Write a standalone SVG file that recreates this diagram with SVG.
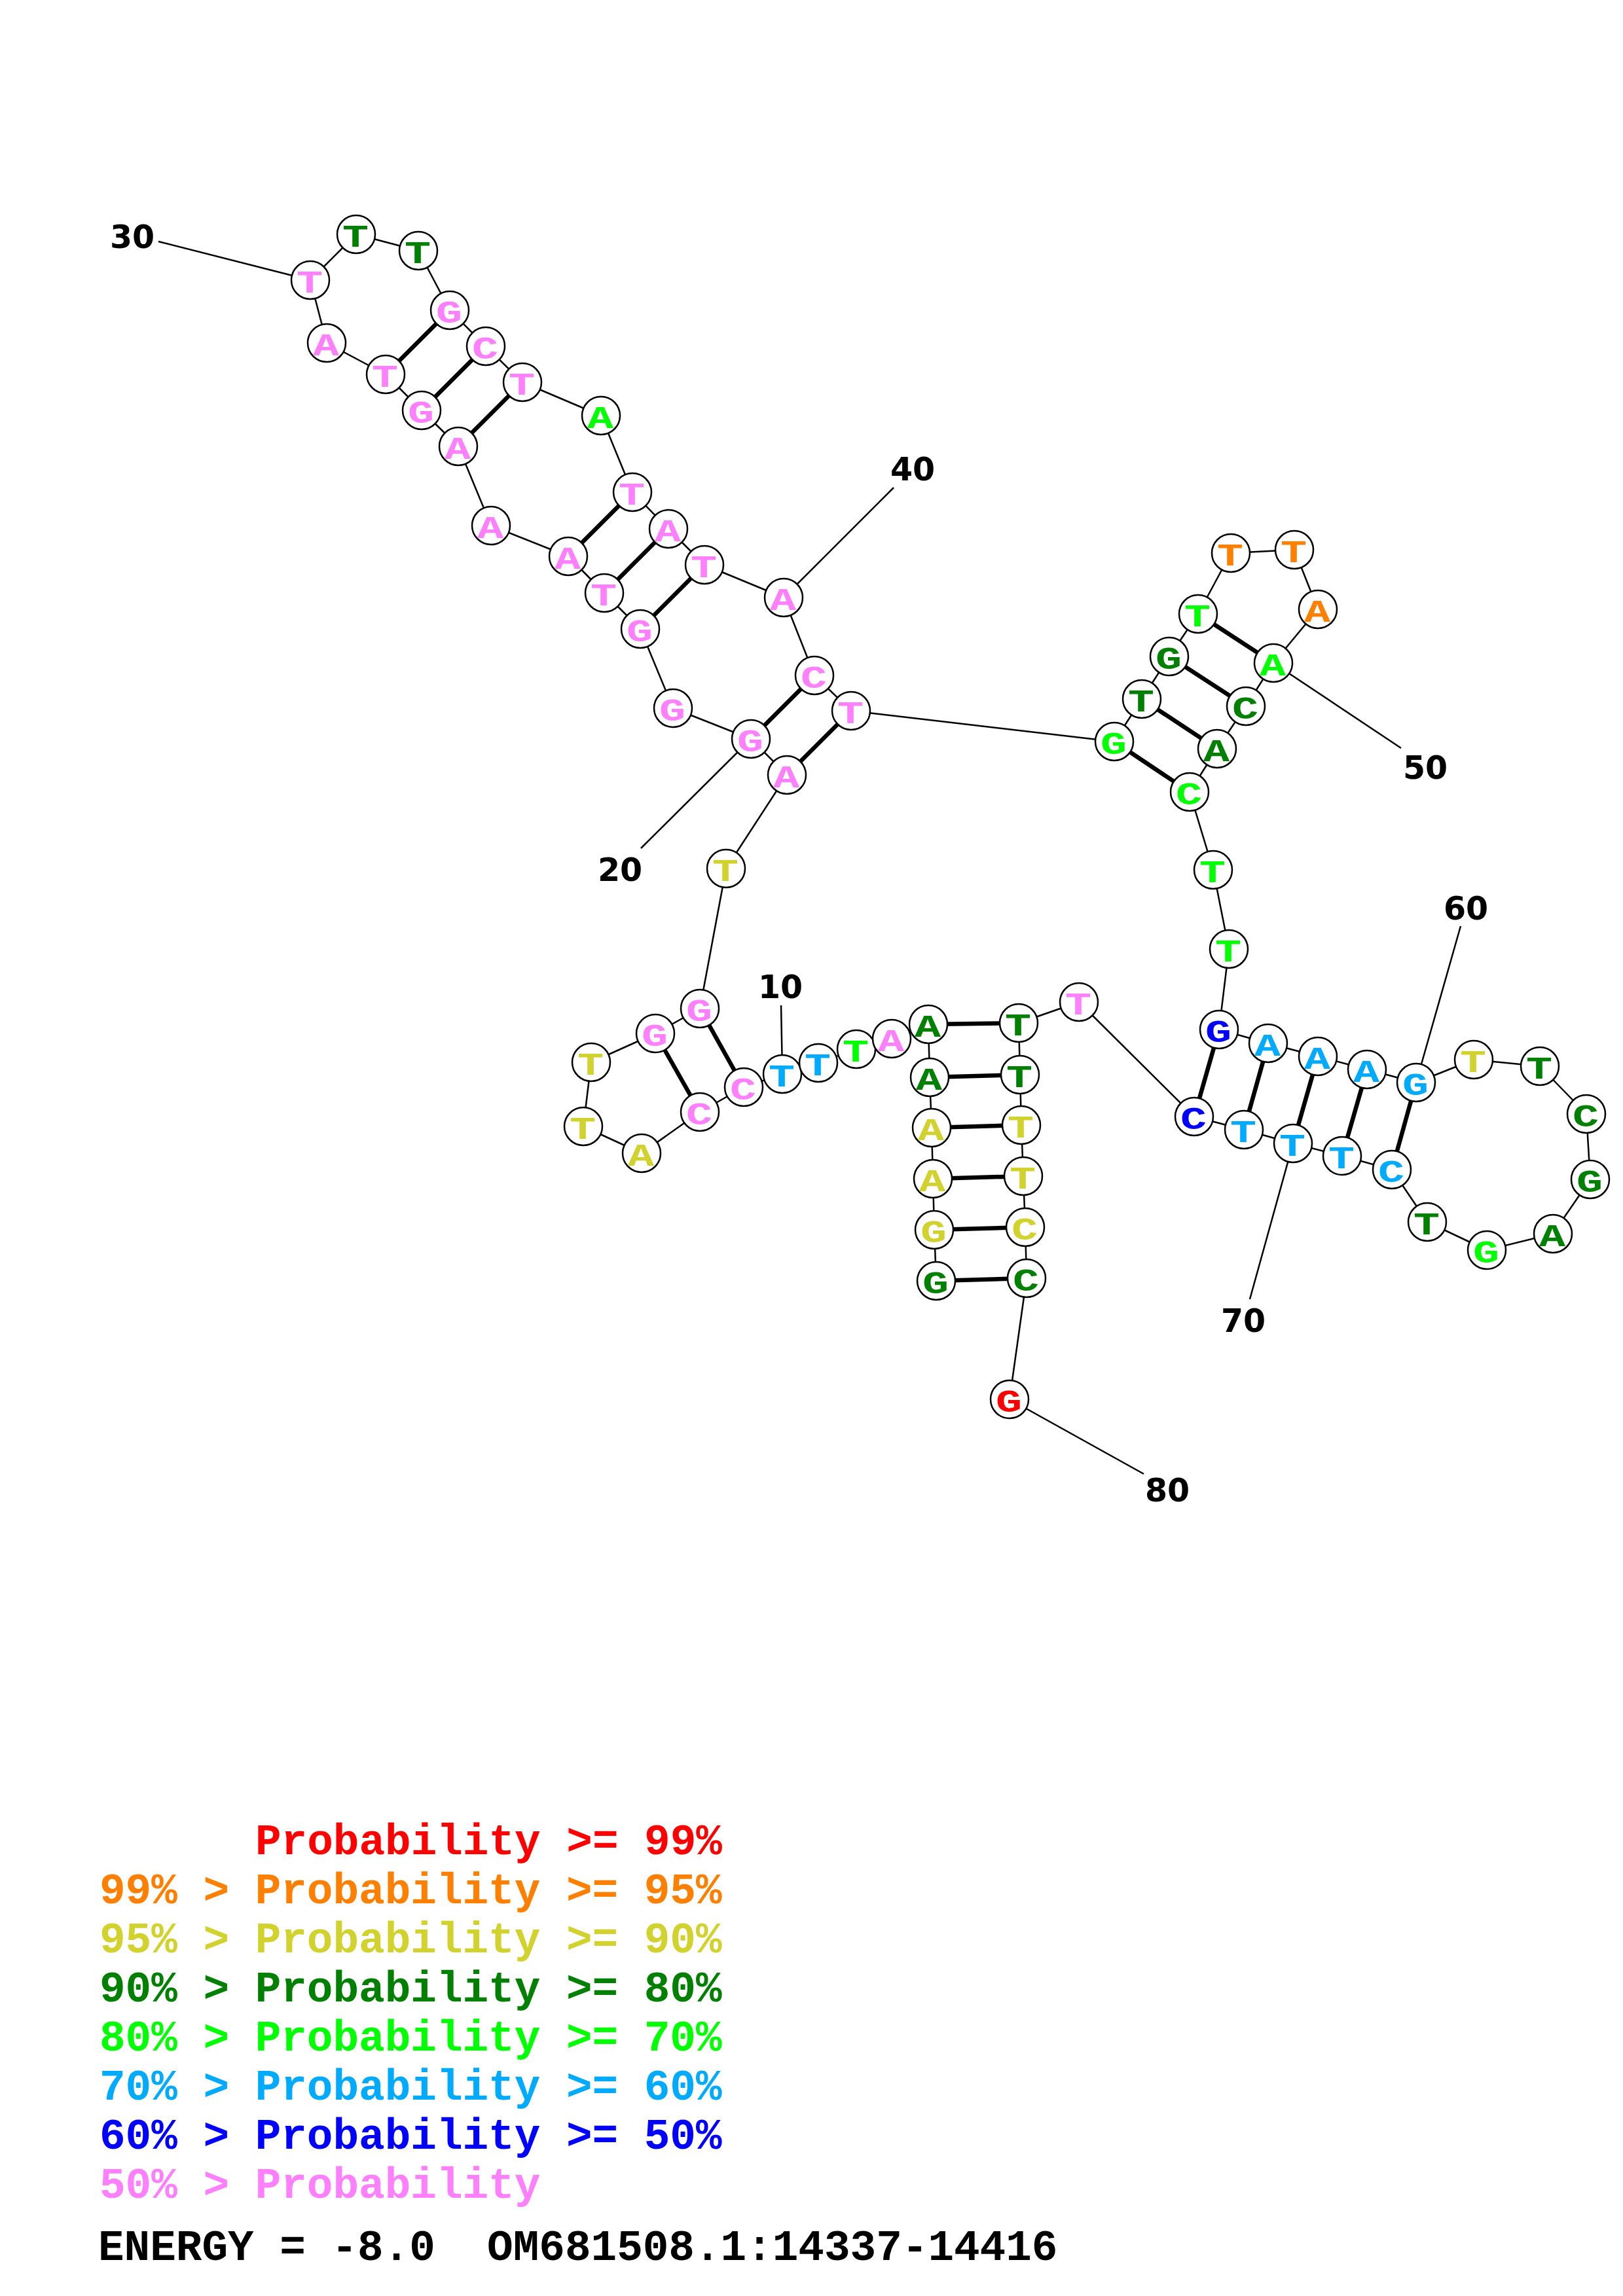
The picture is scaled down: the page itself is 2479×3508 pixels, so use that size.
<svg xmlns="http://www.w3.org/2000/svg" width="2479" height="3508" viewBox="0 0 2479 3508">
<style>
.bb line{stroke:#000;stroke-width:2.5}
.bp line{stroke:#000;stroke-width:6.5}
.ll line{stroke:#000;stroke-width:2.5}
.n circle{fill:#fff;stroke:#000;stroke-width:2.5}
.n text{font-family:"Liberation Mono",monospace;font-weight:bold;font-size:48px;text-anchor:middle}
.num{font-family:"DejaVu Sans",sans-serif;font-weight:bold;font-size:49px;text-anchor:middle;fill:#000}
.leg{font-family:"Liberation Mono",monospace;font-weight:bold;font-size:66px;white-space:pre}
.r{fill:#FF0000}.o{fill:#FF8000}.y{fill:#D2D22E}.dg{fill:#008000}.g{fill:#00FF00}.lb{fill:#00AAFF}.b{fill:#0000FF}.p{fill:#FF80FF}.k{fill:#000}
</style>
<rect width="2479" height="3508" fill="#fff"/>
<g id="connectors">
<g class="bb">
<line x1="1430" y1="1957" x2="1427" y2="1879"/>
<line x1="1427" y1="1879" x2="1425" y2="1801"/>
<line x1="1425" y1="1801" x2="1423" y2="1723"/>
<line x1="1423" y1="1723" x2="1420" y2="1646"/>
<line x1="1420" y1="1646" x2="1418" y2="1565"/>
<line x1="1418" y1="1565" x2="1362" y2="1587"/>
<line x1="1362" y1="1587" x2="1308" y2="1603"/>
<line x1="1308" y1="1603" x2="1250" y2="1624"/>
<line x1="1250" y1="1624" x2="1195" y2="1641"/>
<line x1="1195" y1="1641" x2="1136" y2="1661"/>
<line x1="1136" y1="1661" x2="1069" y2="1699"/>
<line x1="1069" y1="1699" x2="980" y2="1762"/>
<line x1="980" y1="1762" x2="891" y2="1721"/>
<line x1="891" y1="1721" x2="903" y2="1623"/>
<line x1="903" y1="1623" x2="1001" y2="1579"/>
<line x1="1001" y1="1579" x2="1069" y2="1541"/>
<line x1="1069" y1="1541" x2="1109" y2="1327"/>
<line x1="1109" y1="1327" x2="1202" y2="1184"/>
<line x1="1202" y1="1184" x2="1147" y2="1129"/>
<line x1="1147" y1="1129" x2="1028" y2="1082"/>
<line x1="1028" y1="1082" x2="978" y2="961"/>
<line x1="978" y1="961" x2="923" y2="906"/>
<line x1="923" y1="906" x2="868" y2="850"/>
<line x1="868" y1="850" x2="750" y2="803"/>
<line x1="750" y1="803" x2="700" y2="682"/>
<line x1="700" y1="682" x2="644" y2="627"/>
<line x1="644" y1="627" x2="589" y2="572"/>
<line x1="589" y1="572" x2="499" y2="524"/>
<line x1="499" y1="524" x2="474" y2="428"/>
<line x1="474" y1="428" x2="544" y2="358"/>
<line x1="544" y1="358" x2="639" y2="383"/>
<line x1="639" y1="383" x2="687" y2="474"/>
<line x1="687" y1="474" x2="742" y2="529"/>
<line x1="742" y1="529" x2="798" y2="584"/>
<line x1="798" y1="584" x2="918" y2="635"/>
<line x1="918" y1="635" x2="966" y2="752"/>
<line x1="966" y1="752" x2="1021" y2="808"/>
<line x1="1021" y1="808" x2="1076" y2="863"/>
<line x1="1076" y1="863" x2="1197" y2="913"/>
<line x1="1197" y1="913" x2="1244" y2="1032"/>
<line x1="1244" y1="1032" x2="1300" y2="1086"/>
<line x1="1300" y1="1086" x2="1702" y2="1133"/>
<line x1="1702" y1="1133" x2="1744" y2="1068"/>
<line x1="1744" y1="1068" x2="1786" y2="1003"/>
<line x1="1786" y1="1003" x2="1830" y2="938"/>
<line x1="1830" y1="938" x2="1880" y2="845"/>
<line x1="1880" y1="845" x2="1977" y2="840"/>
<line x1="1977" y1="840" x2="2013" y2="931"/>
<line x1="2013" y1="931" x2="1945" y2="1013"/>
<line x1="1945" y1="1013" x2="1903" y2="1079"/>
<line x1="1903" y1="1079" x2="1859" y2="1144"/>
<line x1="1859" y1="1144" x2="1817" y2="1210"/>
<line x1="1817" y1="1210" x2="1853" y2="1329"/>
<line x1="1853" y1="1329" x2="1877" y2="1450"/>
<line x1="1877" y1="1450" x2="1862" y2="1573"/>
<line x1="1862" y1="1573" x2="1937" y2="1594"/>
<line x1="1937" y1="1594" x2="2013" y2="1614"/>
<line x1="2013" y1="1614" x2="2088" y2="1634"/>
<line x1="2088" y1="1634" x2="2163" y2="1654"/>
<line x1="2163" y1="1654" x2="2251" y2="1619"/>
<line x1="2251" y1="1619" x2="2352" y2="1629"/>
<line x1="2352" y1="1629" x2="2423" y2="1702"/>
<line x1="2423" y1="1702" x2="2429" y2="1802"/>
<line x1="2429" y1="1802" x2="2372" y2="1885"/>
<line x1="2372" y1="1885" x2="2271" y2="1910"/>
<line x1="2271" y1="1910" x2="2180" y2="1867"/>
<line x1="2180" y1="1867" x2="2126" y2="1787"/>
<line x1="2126" y1="1787" x2="2050" y2="1766"/>
<line x1="2050" y1="1766" x2="1975" y2="1747"/>
<line x1="1975" y1="1747" x2="1900" y2="1726"/>
<line x1="1900" y1="1726" x2="1824" y2="1706"/>
<line x1="1824" y1="1706" x2="1648" y2="1531"/>
<line x1="1648" y1="1531" x2="1556" y2="1563"/>
<line x1="1556" y1="1563" x2="1558" y2="1642"/>
<line x1="1558" y1="1642" x2="1560" y2="1719"/>
<line x1="1560" y1="1719" x2="1563" y2="1797"/>
<line x1="1563" y1="1797" x2="1566" y2="1875"/>
<line x1="1566" y1="1875" x2="1568" y2="1953"/>
<line x1="1568" y1="1953" x2="1542" y2="2138"/>
</g>
<g class="bp">
<line x1="1430" y1="1957" x2="1568" y2="1953"/>
<line x1="1427" y1="1879" x2="1566" y2="1875"/>
<line x1="1425" y1="1801" x2="1563" y2="1797"/>
<line x1="1423" y1="1723" x2="1560" y2="1719"/>
<line x1="1420" y1="1646" x2="1558" y2="1642"/>
<line x1="1418" y1="1565" x2="1556" y2="1563"/>
<line x1="1136" y1="1661" x2="1069" y2="1541"/>
<line x1="1069" y1="1699" x2="1001" y2="1579"/>
<line x1="1202" y1="1184" x2="1300" y2="1086"/>
<line x1="1147" y1="1129" x2="1244" y2="1032"/>
<line x1="978" y1="961" x2="1076" y2="863"/>
<line x1="923" y1="906" x2="1021" y2="808"/>
<line x1="868" y1="850" x2="966" y2="752"/>
<line x1="700" y1="682" x2="798" y2="584"/>
<line x1="644" y1="627" x2="742" y2="529"/>
<line x1="589" y1="572" x2="687" y2="474"/>
<line x1="1702" y1="1133" x2="1817" y2="1210"/>
<line x1="1744" y1="1068" x2="1859" y2="1144"/>
<line x1="1786" y1="1003" x2="1903" y2="1079"/>
<line x1="1830" y1="938" x2="1945" y2="1013"/>
<line x1="1862" y1="1573" x2="1824" y2="1706"/>
<line x1="1937" y1="1594" x2="1900" y2="1726"/>
<line x1="2013" y1="1614" x2="1975" y2="1747"/>
<line x1="2088" y1="1634" x2="2050" y2="1766"/>
<line x1="2163" y1="1654" x2="2126" y2="1787"/>
</g>
<g class="ll">
<line x1="1193" y1="1536" x2="1195" y2="1641"/>
<line x1="979" y1="1296" x2="1147" y2="1129"/>
<line x1="242" y1="369" x2="474" y2="428"/>
<line x1="1365" y1="745" x2="1197" y2="913"/>
<line x1="2140" y1="1143" x2="1945" y2="1013"/>
<line x1="2231" y1="1415" x2="2163" y2="1654"/>
<line x1="1909" y1="1985" x2="1975" y2="1747"/>
<line x1="1747" y1="2252" x2="1542" y2="2138"/>
</g>
</g>
<g id="labels">
<text class="num" x="1192" y="1525">10</text>
<text class="num" x="947" y="1346">20</text>
<text class="num" x="202" y="379">30</text>
<text class="num" x="1394" y="734">40</text>
<text class="num" x="2177" y="1190">50</text>
<text class="num" x="2239" y="1405">60</text>
<text class="num" x="1899" y="2035">70</text>
<text class="num" x="1783" y="2294">80</text>
</g>
<g id="nodes">
<g id="n80" class="n"><circle cx="1542" cy="2138" r="29"/><text x="1541" y="2157" class="r" textLength="40" lengthAdjust="spacingAndGlyphs">G</text></g>
<g id="n79" class="n"><circle cx="1568" cy="1953" r="29"/><text x="1567" y="1972" class="dg" textLength="40" lengthAdjust="spacingAndGlyphs">C</text></g>
<g id="n78" class="n"><circle cx="1566" cy="1875" r="29"/><text x="1565" y="1894" class="y" textLength="40" lengthAdjust="spacingAndGlyphs">C</text></g>
<g id="n77" class="n"><circle cx="1563" cy="1797" r="29"/><text x="1562" y="1816" class="y" textLength="40" lengthAdjust="spacingAndGlyphs">T</text></g>
<g id="n76" class="n"><circle cx="1560" cy="1719" r="29"/><text x="1559" y="1738" class="y" textLength="40" lengthAdjust="spacingAndGlyphs">T</text></g>
<g id="n75" class="n"><circle cx="1558" cy="1642" r="29"/><text x="1557" y="1661" class="dg" textLength="40" lengthAdjust="spacingAndGlyphs">T</text></g>
<g id="n74" class="n"><circle cx="1556" cy="1563" r="29"/><text x="1555" y="1582" class="dg" textLength="40" lengthAdjust="spacingAndGlyphs">T</text></g>
<g id="n73" class="n"><circle cx="1648" cy="1531" r="29"/><text x="1647" y="1550" class="p" textLength="40" lengthAdjust="spacingAndGlyphs">T</text></g>
<g id="n72" class="n"><circle cx="1824" cy="1706" r="29"/><text x="1823" y="1725" class="b" textLength="40" lengthAdjust="spacingAndGlyphs">C</text></g>
<g id="n71" class="n"><circle cx="1900" cy="1726" r="29"/><text x="1899" y="1745" class="lb" textLength="40" lengthAdjust="spacingAndGlyphs">T</text></g>
<g id="n70" class="n"><circle cx="1975" cy="1747" r="29"/><text x="1974" y="1766" class="lb" textLength="40" lengthAdjust="spacingAndGlyphs">T</text></g>
<g id="n69" class="n"><circle cx="2050" cy="1766" r="29"/><text x="2049" y="1785" class="lb" textLength="40" lengthAdjust="spacingAndGlyphs">T</text></g>
<g id="n68" class="n"><circle cx="2126" cy="1787" r="29"/><text x="2125" y="1806" class="lb" textLength="40" lengthAdjust="spacingAndGlyphs">C</text></g>
<g id="n67" class="n"><circle cx="2180" cy="1867" r="29"/><text x="2179" y="1886" class="dg" textLength="40" lengthAdjust="spacingAndGlyphs">T</text></g>
<g id="n66" class="n"><circle cx="2271" cy="1910" r="29"/><text x="2270" y="1929" class="g" textLength="40" lengthAdjust="spacingAndGlyphs">G</text></g>
<g id="n65" class="n"><circle cx="2372" cy="1885" r="29"/><text x="2371" y="1904" class="dg" textLength="40" lengthAdjust="spacingAndGlyphs">A</text></g>
<g id="n64" class="n"><circle cx="2429" cy="1802" r="29"/><text x="2428" y="1821" class="dg" textLength="40" lengthAdjust="spacingAndGlyphs">G</text></g>
<g id="n63" class="n"><circle cx="2423" cy="1702" r="29"/><text x="2422" y="1721" class="dg" textLength="40" lengthAdjust="spacingAndGlyphs">C</text></g>
<g id="n62" class="n"><circle cx="2352" cy="1629" r="29"/><text x="2351" y="1648" class="dg" textLength="40" lengthAdjust="spacingAndGlyphs">T</text></g>
<g id="n61" class="n"><circle cx="2251" cy="1619" r="29"/><text x="2250" y="1638" class="y" textLength="40" lengthAdjust="spacingAndGlyphs">T</text></g>
<g id="n60" class="n"><circle cx="2163" cy="1654" r="29"/><text x="2162" y="1673" class="lb" textLength="40" lengthAdjust="spacingAndGlyphs">G</text></g>
<g id="n59" class="n"><circle cx="2088" cy="1634" r="29"/><text x="2087" y="1653" class="lb" textLength="40" lengthAdjust="spacingAndGlyphs">A</text></g>
<g id="n58" class="n"><circle cx="2013" cy="1614" r="29"/><text x="2012" y="1633" class="lb" textLength="40" lengthAdjust="spacingAndGlyphs">A</text></g>
<g id="n57" class="n"><circle cx="1937" cy="1594" r="29"/><text x="1936" y="1613" class="lb" textLength="40" lengthAdjust="spacingAndGlyphs">A</text></g>
<g id="n56" class="n"><circle cx="1862" cy="1573" r="29"/><text x="1861" y="1592" class="b" textLength="40" lengthAdjust="spacingAndGlyphs">G</text></g>
<g id="n55" class="n"><circle cx="1877" cy="1450" r="29"/><text x="1876" y="1469" class="g" textLength="40" lengthAdjust="spacingAndGlyphs">T</text></g>
<g id="n54" class="n"><circle cx="1853" cy="1329" r="29"/><text x="1852" y="1348" class="g" textLength="40" lengthAdjust="spacingAndGlyphs">T</text></g>
<g id="n53" class="n"><circle cx="1817" cy="1210" r="29"/><text x="1816" y="1229" class="g" textLength="40" lengthAdjust="spacingAndGlyphs">C</text></g>
<g id="n52" class="n"><circle cx="1859" cy="1144" r="29"/><text x="1858" y="1163" class="dg" textLength="40" lengthAdjust="spacingAndGlyphs">A</text></g>
<g id="n51" class="n"><circle cx="1903" cy="1079" r="29"/><text x="1902" y="1098" class="dg" textLength="40" lengthAdjust="spacingAndGlyphs">C</text></g>
<g id="n50" class="n"><circle cx="1945" cy="1013" r="29"/><text x="1944" y="1032" class="g" textLength="40" lengthAdjust="spacingAndGlyphs">A</text></g>
<g id="n49" class="n"><circle cx="2013" cy="931" r="29"/><text x="2012" y="950" class="o" textLength="40" lengthAdjust="spacingAndGlyphs">A</text></g>
<g id="n48" class="n"><circle cx="1977" cy="840" r="29"/><text x="1976" y="859" class="o" textLength="40" lengthAdjust="spacingAndGlyphs">T</text></g>
<g id="n47" class="n"><circle cx="1880" cy="845" r="29"/><text x="1879" y="864" class="o" textLength="40" lengthAdjust="spacingAndGlyphs">T</text></g>
<g id="n46" class="n"><circle cx="1830" cy="938" r="29"/><text x="1829" y="957" class="g" textLength="40" lengthAdjust="spacingAndGlyphs">T</text></g>
<g id="n45" class="n"><circle cx="1786" cy="1003" r="29"/><text x="1785" y="1022" class="dg" textLength="40" lengthAdjust="spacingAndGlyphs">G</text></g>
<g id="n44" class="n"><circle cx="1744" cy="1068" r="29"/><text x="1743" y="1087" class="dg" textLength="40" lengthAdjust="spacingAndGlyphs">T</text></g>
<g id="n43" class="n"><circle cx="1702" cy="1133" r="29"/><text x="1701" y="1152" class="g" textLength="40" lengthAdjust="spacingAndGlyphs">G</text></g>
<g id="n42" class="n"><circle cx="1300" cy="1086" r="29"/><text x="1299" y="1105" class="p" textLength="40" lengthAdjust="spacingAndGlyphs">T</text></g>
<g id="n41" class="n"><circle cx="1244" cy="1032" r="29"/><text x="1243" y="1051" class="p" textLength="40" lengthAdjust="spacingAndGlyphs">C</text></g>
<g id="n40" class="n"><circle cx="1197" cy="913" r="29"/><text x="1196" y="932" class="p" textLength="40" lengthAdjust="spacingAndGlyphs">A</text></g>
<g id="n39" class="n"><circle cx="1076" cy="863" r="29"/><text x="1075" y="882" class="p" textLength="40" lengthAdjust="spacingAndGlyphs">T</text></g>
<g id="n38" class="n"><circle cx="1021" cy="808" r="29"/><text x="1020" y="827" class="p" textLength="40" lengthAdjust="spacingAndGlyphs">A</text></g>
<g id="n37" class="n"><circle cx="966" cy="752" r="29"/><text x="965" y="771" class="p" textLength="40" lengthAdjust="spacingAndGlyphs">T</text></g>
<g id="n36" class="n"><circle cx="918" cy="635" r="29"/><text x="917" y="654" class="g" textLength="40" lengthAdjust="spacingAndGlyphs">A</text></g>
<g id="n35" class="n"><circle cx="798" cy="584" r="29"/><text x="797" y="603" class="p" textLength="40" lengthAdjust="spacingAndGlyphs">T</text></g>
<g id="n34" class="n"><circle cx="742" cy="529" r="29"/><text x="741" y="548" class="p" textLength="40" lengthAdjust="spacingAndGlyphs">C</text></g>
<g id="n33" class="n"><circle cx="687" cy="474" r="29"/><text x="686" y="493" class="p" textLength="40" lengthAdjust="spacingAndGlyphs">G</text></g>
<g id="n32" class="n"><circle cx="639" cy="383" r="29"/><text x="638" y="402" class="dg" textLength="40" lengthAdjust="spacingAndGlyphs">T</text></g>
<g id="n31" class="n"><circle cx="544" cy="358" r="29"/><text x="543" y="377" class="dg" textLength="40" lengthAdjust="spacingAndGlyphs">T</text></g>
<g id="n30" class="n"><circle cx="474" cy="428" r="29"/><text x="473" y="447" class="p" textLength="40" lengthAdjust="spacingAndGlyphs">T</text></g>
<g id="n29" class="n"><circle cx="499" cy="524" r="29"/><text x="498" y="543" class="p" textLength="40" lengthAdjust="spacingAndGlyphs">A</text></g>
<g id="n28" class="n"><circle cx="589" cy="572" r="29"/><text x="588" y="591" class="p" textLength="40" lengthAdjust="spacingAndGlyphs">T</text></g>
<g id="n27" class="n"><circle cx="644" cy="627" r="29"/><text x="643" y="646" class="p" textLength="40" lengthAdjust="spacingAndGlyphs">G</text></g>
<g id="n26" class="n"><circle cx="700" cy="682" r="29"/><text x="699" y="701" class="p" textLength="40" lengthAdjust="spacingAndGlyphs">A</text></g>
<g id="n25" class="n"><circle cx="750" cy="803" r="29"/><text x="749" y="822" class="p" textLength="40" lengthAdjust="spacingAndGlyphs">A</text></g>
<g id="n24" class="n"><circle cx="868" cy="850" r="29"/><text x="867" y="869" class="p" textLength="40" lengthAdjust="spacingAndGlyphs">A</text></g>
<g id="n23" class="n"><circle cx="923" cy="906" r="29"/><text x="922" y="925" class="p" textLength="40" lengthAdjust="spacingAndGlyphs">T</text></g>
<g id="n22" class="n"><circle cx="978" cy="961" r="29"/><text x="977" y="980" class="p" textLength="40" lengthAdjust="spacingAndGlyphs">G</text></g>
<g id="n21" class="n"><circle cx="1028" cy="1082" r="29"/><text x="1027" y="1101" class="p" textLength="40" lengthAdjust="spacingAndGlyphs">G</text></g>
<g id="n20" class="n"><circle cx="1147" cy="1129" r="29"/><text x="1146" y="1148" class="p" textLength="40" lengthAdjust="spacingAndGlyphs">G</text></g>
<g id="n19" class="n"><circle cx="1202" cy="1184" r="29"/><text x="1201" y="1203" class="p" textLength="40" lengthAdjust="spacingAndGlyphs">A</text></g>
<g id="n18" class="n"><circle cx="1109" cy="1327" r="29"/><text x="1108" y="1346" class="y" textLength="40" lengthAdjust="spacingAndGlyphs">T</text></g>
<g id="n17" class="n"><circle cx="1069" cy="1541" r="29"/><text x="1068" y="1560" class="p" textLength="40" lengthAdjust="spacingAndGlyphs">G</text></g>
<g id="n16" class="n"><circle cx="1001" cy="1579" r="29"/><text x="1000" y="1598" class="p" textLength="40" lengthAdjust="spacingAndGlyphs">G</text></g>
<g id="n15" class="n"><circle cx="903" cy="1623" r="29"/><text x="902" y="1642" class="y" textLength="40" lengthAdjust="spacingAndGlyphs">T</text></g>
<g id="n14" class="n"><circle cx="891" cy="1721" r="29"/><text x="890" y="1740" class="y" textLength="40" lengthAdjust="spacingAndGlyphs">T</text></g>
<g id="n13" class="n"><circle cx="980" cy="1762" r="29"/><text x="979" y="1781" class="y" textLength="40" lengthAdjust="spacingAndGlyphs">A</text></g>
<g id="n12" class="n"><circle cx="1069" cy="1699" r="29"/><text x="1068" y="1718" class="p" textLength="40" lengthAdjust="spacingAndGlyphs">C</text></g>
<g id="n11" class="n"><circle cx="1136" cy="1661" r="29"/><text x="1135" y="1680" class="p" textLength="40" lengthAdjust="spacingAndGlyphs">C</text></g>
<g id="n10" class="n"><circle cx="1195" cy="1641" r="29"/><text x="1194" y="1660" class="lb" textLength="40" lengthAdjust="spacingAndGlyphs">T</text></g>
<g id="n9" class="n"><circle cx="1250" cy="1624" r="29"/><text x="1249" y="1643" class="lb" textLength="40" lengthAdjust="spacingAndGlyphs">T</text></g>
<g id="n8" class="n"><circle cx="1308" cy="1603" r="29"/><text x="1307" y="1622" class="g" textLength="40" lengthAdjust="spacingAndGlyphs">T</text></g>
<g id="n7" class="n"><circle cx="1362" cy="1587" r="29"/><text x="1361" y="1606" class="p" textLength="40" lengthAdjust="spacingAndGlyphs">A</text></g>
<g id="n6" class="n"><circle cx="1418" cy="1565" r="29"/><text x="1417" y="1584" class="dg" textLength="40" lengthAdjust="spacingAndGlyphs">A</text></g>
<g id="n5" class="n"><circle cx="1420" cy="1646" r="29"/><text x="1419" y="1665" class="dg" textLength="40" lengthAdjust="spacingAndGlyphs">A</text></g>
<g id="n4" class="n"><circle cx="1423" cy="1723" r="29"/><text x="1422" y="1742" class="y" textLength="40" lengthAdjust="spacingAndGlyphs">A</text></g>
<g id="n3" class="n"><circle cx="1425" cy="1801" r="29"/><text x="1424" y="1820" class="y" textLength="40" lengthAdjust="spacingAndGlyphs">A</text></g>
<g id="n2" class="n"><circle cx="1427" cy="1879" r="29"/><text x="1426" y="1898" class="y" textLength="40" lengthAdjust="spacingAndGlyphs">G</text></g>
<g id="n1" class="n"><circle cx="1430" cy="1957" r="29"/><text x="1429" y="1976" class="dg" textLength="40" lengthAdjust="spacingAndGlyphs">G</text></g>
</g>
<g id="legend">
<text class="leg r" x="390" y="2833">Probability &gt;= 99%</text>
<text class="leg o" x="152" y="2908">99% &gt; Probability &gt;= 95%</text>
<text class="leg y" x="152" y="2983">95% &gt; Probability &gt;= 90%</text>
<text class="leg dg" x="152" y="3058">90% &gt; Probability &gt;= 80%</text>
<text class="leg g" x="152" y="3133">80% &gt; Probability &gt;= 70%</text>
<text class="leg lb" x="152" y="3208">70% &gt; Probability &gt;= 60%</text>
<text class="leg b" x="152" y="3283">60% &gt; Probability &gt;= 50%</text>
<text class="leg p" x="152" y="3358">50% &gt; Probability</text>
<text class="leg k" x="150" y="3453">ENERGY = -8.0  OM681508.1:14337-14416</text>
</g>
</svg>
